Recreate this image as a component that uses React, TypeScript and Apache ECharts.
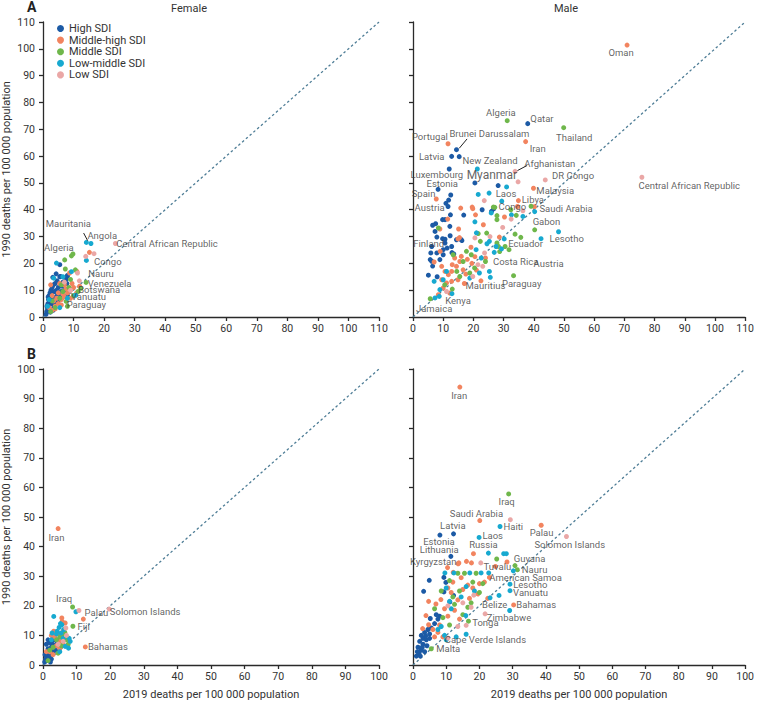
import React, { useEffect, useRef } from "react";
import * as echarts from "echarts";

const SDI_GROUPS = ["High SDI", "Middle-high SDI", "Middle SDI", "Low-middle SDI", "Low SDI"];
const SDI_COLORS = ["#1c5aa5", "#f2845f", "#6fb74b", "#17a9d0", "#eaa7a6"];

const Y_TITLE = "1990 deaths per 100 000 population";
const X_TITLE = "2019 deaths per 100 000 population";

// ---------- Panel A, Female ----------
const fA_high = [[1.2,2],[1.5,3],[1.6,5],[1.8,6.5],[2,4.5],[2,8],[2.2,3],[2.5,6],[2.6,10],[2.8,7.5],[3,5],[3,9],[3,11],[3.2,14.8],[3.4,12],[3.5,7],[3.6,4],[4,5],[4,12.5],[4.2,7.5],[4.3,16.1],[4.5,10],[4.6,13.5],[5,6],[5,11],[5.5,8],[5.5,15],[5.5,19.5],[5.7,15.1],[6,9.5],[6.2,11.5],[6.5,13],[7,10],[7.5,14],[7.8,12.5],[7.9,15.1],[8,8],[8,15.5],[1,1],[2.4,1.8],[1.3,4],[2.3,9],[3.8,9.5],[4.8,8.5],[1.7,7.5],[3.3,2.5]];
const fA_midHigh = [[2,3.5],[2.5,12],[3,2.5],[3.5,6],[4,3],[4,4],[5,5],[5,9],[6,4.5],[6,6.5],[6.5,8.5],[7,7.5],[7,12],[8,9],[8.7,16.4],[9,7],[9,10],[9.5,12.5],[10,11],[11,9],[11.1,17],[12,11.5],[15.2,24.1],[4.5,7],[5.5,12.5],[3,8],[7.5,10.5]];
const fA_mid = [[2.5,2],[3,6],[4,3.5],[5.5,7],[6,12],[6.5,9.5],[7.1,21.3],[7.3,17.9],[7.6,5.8],[8,4],[8.5,11],[9,14],[9.3,22.8],[9.8,23.5],[10,8],[10.6,17.6],[11.5,9.5],[12.4,10.7],[14.1,12.9]];
const fA_lowMid = [[1.5,4],[2,6.5],[3.5,14.5],[4.4,20.1],[5.5,3.5],[6.5,15],[8,7],[9.3,16.9],[10.7,8.1],[14.2,21.1],[14.2,27.8],[15.7,27.4]];
const fA_low = [[7,13],[9,10],[11.3,16.4],[11.9,13.5],[14,22.6],[16.7,23.6],[23.7,27.4]];
const fA_labels = [["Mauritania",8.3,34.7],["Angola",19.4,30.5],["Central African Republic",40.6,27.4],["Algeria",5.2,26.1],["Congo",21.2,20.6],["Nauru",19,16.1],["Venezuela",21.8,12.4],["Botswana",18.4,10.2],["Vanuatu",14.9,7.7],["Paraguay",14.2,4.8]];
const fA_leaders = [[[13.3,31.3],[14.6,28.5]]];

// ---------- Panel A, Male ----------
const mA_high = [[38,72.1],[14.4,62.4],[12.8,59.9],[15.3,59.8],[12,55.2],[20.5,50],[8.3,47.6],[28.2,49],[12.5,45.5],[11.8,43.6],[10.9,42.4],[11.6,41.2],[22.9,40],[26.7,40.3],[26,39.4],[12.4,38.1],[9.8,36.3],[10.6,36.3],[7.5,34.8],[6.5,34.2],[12.2,33.8],[16.8,38],[7.3,31.9],[7.9,29.8],[9.8,29.2],[10.6,29],[12.3,30.3],[15.9,28.9],[14.4,28.8],[10.6,27.6],[11.3,25.7],[12.8,26.3],[6.2,26.3],[5.9,23.9],[5.7,21.4],[6.2,20.8],[10,23.2],[7.9,23.9],[8.9,21.4],[10,25.1],[5.1,15.6],[12.9,24],[13.5,23.5],[8,15],[6.5,19],[16.2,28.5]];
const mA_midHigh = [[70.9,101.4],[11.6,64.6],[37.3,65.4],[7.7,44],[39.9,48],[34.9,43.4],[40.2,41.1],[19.6,41],[19.8,40.4],[15.8,40.6],[34.6,41.2],[30.3,37.3],[20.7,38.1],[8.9,32.8],[15.1,32.8],[23.3,34.4],[14.9,29.1],[15.4,29.6],[28.6,29.8],[11.5,36.5],[9.5,18.9],[10.6,17],[11.7,15.8],[12.8,17],[14.4,18.9],[15.5,20.7],[13.8,22],[16,22.6],[16.6,17.6],[14.9,13.9],[12.8,13.3],[11.1,12.7],[9.5,13.9],[10,10.8],[8.4,8.3],[12.2,8.9],[18,21.5],[19.5,20],[20.5,22.5],[21,17.5],[17.5,16],[13,19.5],[22.5,13.5],[17,12.5],[9,24.5],[7,20.5],[24,22],[19.2,26]];
const mA_mid = [[31.2,73.2],[49.9,70.6],[26.6,41],[39.1,41.3],[40.3,32.5],[35.7,29.7],[24,20.7],[33.3,15.4],[13,10.4],[5.7,6.8],[27.1,40.9],[27.8,37.8],[27.8,36.3],[32.4,40],[34.2,37.9],[8.4,33.2],[21.6,31.1],[24.4,31.3],[22.3,28.2],[30.5,26.3],[28.7,24.4],[27.8,27.6],[13.3,23.2],[17.7,24.5],[19.3,23.2],[16.6,20.7],[18.8,16.4],[20.4,18.3],[15.5,15.1],[33.8,30.9],[28.3,26.3],[31.8,25.1],[10.5,12],[14.5,17]];
const mA_lowMid = [[21.3,55.2],[25.2,46.2],[31,48.5],[21.6,45.7],[29.4,43.2],[40.3,39.3],[48.2,31.8],[42.4,29.2],[25.6,14.8],[12.9,8.7],[25.9,38.8],[36.4,37.5],[32.6,38.1],[21,31.4],[30.2,29.1],[24.5,27.3],[27.5,26.3],[29.3,25.4],[26.9,24.1],[20.9,25.1],[22.6,22],[25.3,28.2],[25.3,17],[22,16.4],[18.8,14.5],[11.1,17],[10,13.9],[7.3,7.1],[8.7,7.7],[8.9,10.2],[7,13.3],[20.5,35.5]];
const mA_low = [[75.8,52.1],[33.8,54.3],[43.8,51.1],[34.8,50.4],[23.6,43.4],[36.4,39.6],[29.7,33.4],[32.5,36.5],[23.7,23.9],[21.5,19.5],[23.1,18.9],[19.8,15.1],[11.1,9.5],[20.5,29.5],[25.5,30]];
const mA_labels = [["Oman",68.9,98.5],["Algeria",29.1,76.2],["Qatar",42.7,74.1],["Thailand",53.4,66.9],["Portugal",5.6,67.4],["Brunei Darussalam",25.3,68.4],["Iran",41.3,62.8],["Latvia",6.2,59.9],["New Zealand",25.5,58.2],["Afghanistan",45.3,57.1],["Luxembourg",7.9,53],["Myanmar",26.1,53],["DR Congo",53,52.7],["Central African Republic",91.5,49.1],["Estonia",9.7,49.9],["Spain",3.5,46],["Laos",30.8,46],["Malaysia",47.1,47.1],["Libya",39.7,44],["Austria",5.5,40.9],["Congo",32.9,41.1],["Saudi Arabia",50.7,40.6],["Gabon",44.2,35.7],["Lesotho",50.9,29.3],["Finland",5.2,27.5],["Ecuador",37.3,27.3],["Costa Rica",34,20.7],["Austria",44.9,20.1],["Mauritius",24,11.7],["Paraguay",36,12.4],["Kenya",14.9,6.1],["Jamaica",7,3.3]];
const mA_leaders = [[[17.9,66.4],[15.3,62.9]],[[37.8,56.5],[34.6,54.6]]];

// ---------- Panel B, Female ----------
const fB_high = [[0.5,1],[0.8,2],[1,3],[1.2,1.5],[1.5,4],[1.8,2.5],[2,5],[2.2,3.5],[2.5,6],[2.8,7],[3,4.5],[3.2,8.5],[3.5,6.5],[1,7],[1.5,8.5],[2,7.5],[4,7],[3.8,5],[2.5,2],[1.5,5.5],[0.6,3.5],[3,9.5],[4.5,8.5],[2.2,1]];
const fB_midHigh = [[4.5,46.1],[12,15.5],[12.6,6.1],[5.6,15.9],[6.1,11.7],[3.2,11.4],[5.7,14.7],[6.6,14.2],[1,4.5],[2,4.5],[3,3.5],[4,6.5],[5,5.5],[5,8],[6,7],[7,9],[3.5,9.5],[4.5,10.5],[5.5,10],[6.5,8.5],[2.5,10]];
const fB_mid = [[8.8,19.6],[8.9,13.1],[2,5],[3,6],[4,8.5],[5,9.5],[6,10.5],[7,8.5],[7.5,7],[5.5,6.5],[4.5,4],[1.5,1.5],[6.5,11]];
const fB_lowMid = [[9.8,18],[3.2,16.4],[5.2,14],[5.6,13.6],[4.8,12.7],[2.7,10.8],[4.2,11.4],[8.1,8],[7.6,5.7],[6.6,6.3],[5,4.5],[6,9],[7.8,9],[2.5,8.5],[4,10.5],[6.2,12],[5.4,10.8]];
const fB_low = [[19.7,18.9],[10.7,18.4],[6.8,12.5],[6,8],[4.5,7],[7,10]];
const fB_labels = [["Iran",4,43.2],["Iraq",6.3,22.5],["Palau",15.9,17.6],["Solomon Islands",30.4,18.1],["Fiji",12.1,13.1],["Bahamas",19.3,6.3]];

// ---------- Panel B, Male ----------
const mB_high = [[8.1,43.9],[12.2,44.3],[11.4,36.7],[4.9,28.6],[3.2,24.9],[9.3,29.6],[9.3,24.7],[11.1,21.3],[12.2,23.5],[5.2,15.7],[9.9,27.9],[8,16.5],[7,17],[7.5,15.5],[6.5,14],[4.5,12],[3.5,11],[2.5,10],[3,9],[4,8.5],[5,10.5],[5.5,12.5],[2,8],[1.5,6],[2.5,5],[3,7],[1.8,4],[1,3],[2.2,3],[3.5,4.5],[4.2,6.5],[2.8,6],[1.3,4.5],[3.8,9.8],[5,9]];
const mB_midHigh = [[14.1,93.9],[20.1,48.8],[38.6,47.2],[18.2,37.6],[10.4,32.9],[13.8,34.5],[28.3,34.8],[23,29.6],[30.3,20.3],[13.6,34.2],[16.1,35],[17.6,34.5],[12.1,31.3],[4.7,21.5],[6.9,20.6],[8.4,22.1],[3.9,16.7],[2.9,12.3],[4.7,13.6],[10.5,26],[12,28],[14.5,29.5],[15,25.5],[16.5,27],[18,26],[20,27.5],[21.5,28],[19.5,24],[13.5,22],[11.5,24.5],[9.5,19],[10.5,16.5],[8,13.5],[6,12],[7.5,11],[12.5,18.5],[17,22.5],[14,15.5],[9,9.5],[22.5,22.5],[24.8,33.3],[6.5,9.5]];
const mB_mid = [[28.8,57.8],[25.2,35.8],[30.7,33.6],[31.4,32.2],[5.5,5.5],[16.7,14.8],[13.5,31],[15.5,31],[19,31],[11,28.5],[8.5,25],[12,23],[14,25],[17.5,21],[20,24.5],[21,27.5],[16.5,19.5],[6.5,19],[9,16],[11,13.5],[12.5,20.5],[18,28],[15,17]];
const mB_lowMid = [[26.2,46.8],[19.9,43.1],[27.3,37.6],[28.1,37.6],[30.2,31.8],[29.2,27.3],[29.2,25.1],[25.9,23.5],[23.2,22.7],[29.1,18.4],[15.9,16.7],[16,10.4],[22.7,37.8],[9.6,31.1],[12.3,31.1],[17.1,31.1],[20.5,31.1],[22.8,31.1],[10,26],[16,26.5],[18.5,25],[11.5,19],[14.5,23],[8.5,13],[9.5,10],[10,8.5],[7.5,12],[11,21.5],[13,9.5]];
const mB_low = [[29.3,49.1],[46.2,43.4],[20.4,34.5],[18.3,23.6],[21.7,17.3],[16,13.4],[10.5,9.1],[13.5,13],[10.5,20],[17.5,19.5],[15,21]];
const mB_labels = [["Iran",13.9,91.1],["Iraq",28.2,55.1],["Saudi Arabia",19.1,51.2],["Haiti",30.2,46.8],["Palau",38.7,44.9],["Solomon Islands",47.2,40.7],["Latvia",12,47],["Laos",24,43.9],["Estonia",7.8,41.8],["Russia",21.2,40.8],["Lithuania",7.9,39.1],["Guyana",35.1,36],["Kyrgyzstan",6.1,34.9],["Tuvalu",25.4,33.3],["Nauru",36.6,32.4],["American Samoa",33.9,29.7],["Lesotho",35.3,27.3],["Vanuatu",35.4,24.5],["Belize",24.6,20.4],["Bahamas",37.1,20.3],["Zimbabwe",28.9,16.2],["Tonga",21.8,14.2],["Cape Verde Islands",21.8,8.7],["Malta",10.6,5.5]];

const PANELS = [
  { max: 110, groups: [fA_high, fA_midHigh, fA_mid, fA_lowMid, fA_low], labels: fA_labels, leaders: fA_leaders, yLabels: true, xTitle: false },
  { max: 110, groups: [mA_high, mA_midHigh, mA_mid, mA_lowMid, mA_low], labels: mA_labels, leaders: mA_leaders, yLabels: false, xTitle: false },
  { max: 100, groups: [fB_high, fB_midHigh, fB_mid, fB_lowMid, fB_low], labels: fB_labels, leaders: [], yLabels: true, xTitle: true },
  { max: 100, groups: [mB_high, mB_midHigh, mB_mid, mB_lowMid, mB_low], labels: mB_labels, leaders: [], yLabels: false, xTitle: true },
];

const GRIDS = [
  { left: 43, top: 22, width: 336, height: 295 },
  { left: 413, top: 22, width: 336, height: 295 },
  { left: 43, top: 369, width: 336, height: 296 },
  { left: 413, top: 369, width: 336, height: 296 },
];

const FONT = "Roboto, 'Noto Sans', sans-serif";
const AXIS_COLOR = "#2a2a2a";
const TEXT_COLOR = "#333";

export default function App() {
  const ref = useRef<HTMLDivElement>(null);
  useEffect(() => {
    if (!ref.current) return;
    const chart = echarts.init(ref.current, undefined, { renderer: "svg" });
    const series: any[] = [];
    PANELS.forEach((p, i) => {
      series.push({
        type: "line",
        xAxisIndex: i,
        yAxisIndex: i,
        data: [[0, 0], [p.max, p.max]],
        symbol: "none",
        silent: true,
        lineStyle: { color: "#4e7d96", width: 1.3, type: [2.5, 2.5] },
        z: 1,
      });
      p.groups.forEach((g, gi) => {
        series.push({
          type: "scatter",
          name: SDI_GROUPS[gi],
          xAxisIndex: i,
          yAxisIndex: i,
          data: g,
          symbolSize: 5,
          itemStyle: { color: SDI_COLORS[gi], opacity: 1 },
          silent: true,
          z: 2,
        });
      });
      if (p.leaders.length) {
        series.push({
          type: "lines",
          coordinateSystem: "cartesian2d",
          xAxisIndex: i,
          yAxisIndex: i,
          data: p.leaders.map((c) => ({ coords: c })),
          lineStyle: { color: "#222", width: 1, opacity: 1 },
          silent: true,
          z: 3,
        });
      }
      series.push({
        type: "scatter",
        xAxisIndex: i,
        yAxisIndex: i,
        symbolSize: 0,
        silent: true,
        z: 4,
        data: p.labels.map((l) => ({
          name: l[0],
          value: [l[1], l[2]],
          label: l[0] === "Myanmar" ? { fontSize: 12, lineHeight: 12 } : undefined,
        })),
        label: {
          show: true,
          position: "inside",
          formatter: "{b}",
          fontSize: 9.5,
          lineHeight: 8,
          fontFamily: FONT,
          color: "#3a3a3a",
        },
      });
    });

    const option: any = {
      animation: false,
      textStyle: { fontFamily: FONT },
      grid: GRIDS,
      legend: {
        data: SDI_GROUPS,
        orient: "vertical",
        left: 52,
        top: 18,
        icon: "circle",
        itemWidth: 7,
        itemHeight: 7,
        itemGap: 0.6,
        selectedMode: false,
        textStyle: { fontSize: 11, lineHeight: 11, color: TEXT_COLOR, fontFamily: FONT },
      },
      xAxis: PANELS.map((p, i) => ({
        type: "value",
        gridIndex: i,
        min: 0,
        max: p.max,
        interval: 10,
        name: p.xTitle ? X_TITLE : "",
        nameLocation: "middle",
        nameGap: 24,
        nameTextStyle: { fontSize: 11, color: TEXT_COLOR, fontFamily: FONT },
        axisLine: { show: true, onZero: false, lineStyle: { color: AXIS_COLOR, width: 1.3 } },
        axisTick: { show: true, length: 4, lineStyle: { color: AXIS_COLOR, width: 1.3 } },
        axisLabel: { fontSize: 10.5, color: TEXT_COLOR, margin: 6, fontFamily: FONT },
        splitLine: { show: false },
      })),
      yAxis: PANELS.map((p, i) => ({
        type: "value",
        gridIndex: i,
        min: 0,
        max: p.max,
        interval: 10,
        name: p.yLabels ? Y_TITLE : "",
        nameLocation: "middle",
        nameGap: 31,
        nameTextStyle: { fontSize: 11, color: TEXT_COLOR, fontFamily: FONT },
        axisLine: { show: true, onZero: false, lineStyle: { color: AXIS_COLOR, width: 1.3 } },
        axisTick: { show: true, length: 4, lineStyle: { color: AXIS_COLOR, width: 1.3 } },
        axisLabel: { show: p.yLabels, fontSize: 10.5, color: TEXT_COLOR, margin: 8, fontFamily: FONT },
        splitLine: { show: false },
      })),
      graphic: [
        { type: "text", left: 27, top: 0, style: { text: "A", fontSize: 14, fontWeight: "bold", fill: "#222", fontFamily: FONT } },
        { type: "text", left: 27, top: 347, style: { text: "B", fontSize: 14, fontWeight: "bold", fill: "#222", fontFamily: FONT } },
        { type: "text", x: 189, y: 8, style: { text: "Female", fontSize: 11, fill: TEXT_COLOR, align: "center", verticalAlign: "middle", fontFamily: FONT } },
        { type: "text", x: 566, y: 8, style: { text: "Male", fontSize: 11, fill: TEXT_COLOR, align: "center", verticalAlign: "middle", fontFamily: FONT } },
      ],
      series,
    };
    chart.setOption(option);
    return () => chart.dispose();
  }, []);
  return <div ref={ref} style={{ position: "absolute", left: 0, top: 0, width: 757, height: 701, background: "#fff" }} />;
}
